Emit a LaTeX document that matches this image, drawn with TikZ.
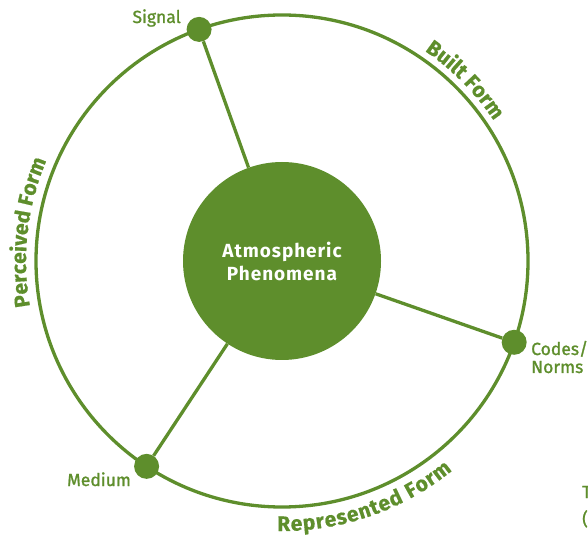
\documentclass[tikz,border=0pt]{standalone}
\usepackage{fontspec}
\setmainfont{Fira Sans}
\newfontfamily\lblfont{Fira Sans}[FakeBold=1.2]
\newfontfamily\hubfamily{Fira Sans}[LetterSpace=5]
\newfontfamily\curvefamily{Fira Sans}[FakeBold=0.6]
\usetikzlibrary{calc,decorations.text}
\definecolor{leaf}{RGB}{94,142,44}
\begin{document}
\begin{tikzpicture}[x=1pt,y=1pt,
  ring/.style={draw=leaf, line width=3.3pt},
  spoke/.style={draw=leaf, line width=3.3pt},
  hub/.style={circle, fill=leaf, minimum size=198pt, inner sep=0pt, text=white, align=center,
    font=\hubfamily\bfseries\fontsize{19}{23}\selectfont},
  dot/.style={circle, fill=leaf, minimum size=25pt, inner sep=0pt},
  lbl/.style={text=leaf, font=\lblfont\fontsize{17.5}{18}\selectfont, inner sep=0pt},
  curvetext/.style={decorate, decoration={text along path, text align=fit to path,
    text color=leaf, text={|\curvefamily\bfseries\fontsize{21}{22}\selectfont|#1}}}
]
\useasboundingbox (0,0) rectangle (588,538);
\coordinate (c) at (282,277);
\path[ring] (c) circle (246);
\node[hub] (hub) at (c) {Atmospheric\\Phenomena};
\node[dot] (sig) at ($(c)+(109.7:246)$) {};
\node[dot] (codes) at ($(c)+(-19.3:246)$) {};
\node[dot] (med) at ($(c)+(236.6:246)$) {};
\draw[spoke] (hub) -- (sig);
\draw[spoke] (hub) -- (codes);
\draw[spoke] (hub) -- (med);
\node[lbl, anchor=base east] (siglbl) at (181,515) {Signal};
\node[lbl, anchor=base west, align=left] (codeslbl) at (531,165) {Codes/\\Norms};
\node[lbl, anchor=base west] (medlbl) at (67,52) {Medium};
\node[lbl, anchor=base west] (cut1) at (582,40) {T};
\node[lbl, anchor=base west] (cut2) at (582,13) {(};
\path[curvetext={Built Form}] ($(c)+(55.8:254)$) arc[start angle=55.8, end angle=35, radius=254];
\path[curvetext={Perceived Form}] ($(c)+(190.2:256)$) arc[start angle=190.2, end angle=157.8, radius=256];
\path[curvetext={Represented Form}] ($(c)+(-91:270)$) arc[start angle=-91, end angle=-50.9, radius=270];
\end{tikzpicture}
\end{document}
